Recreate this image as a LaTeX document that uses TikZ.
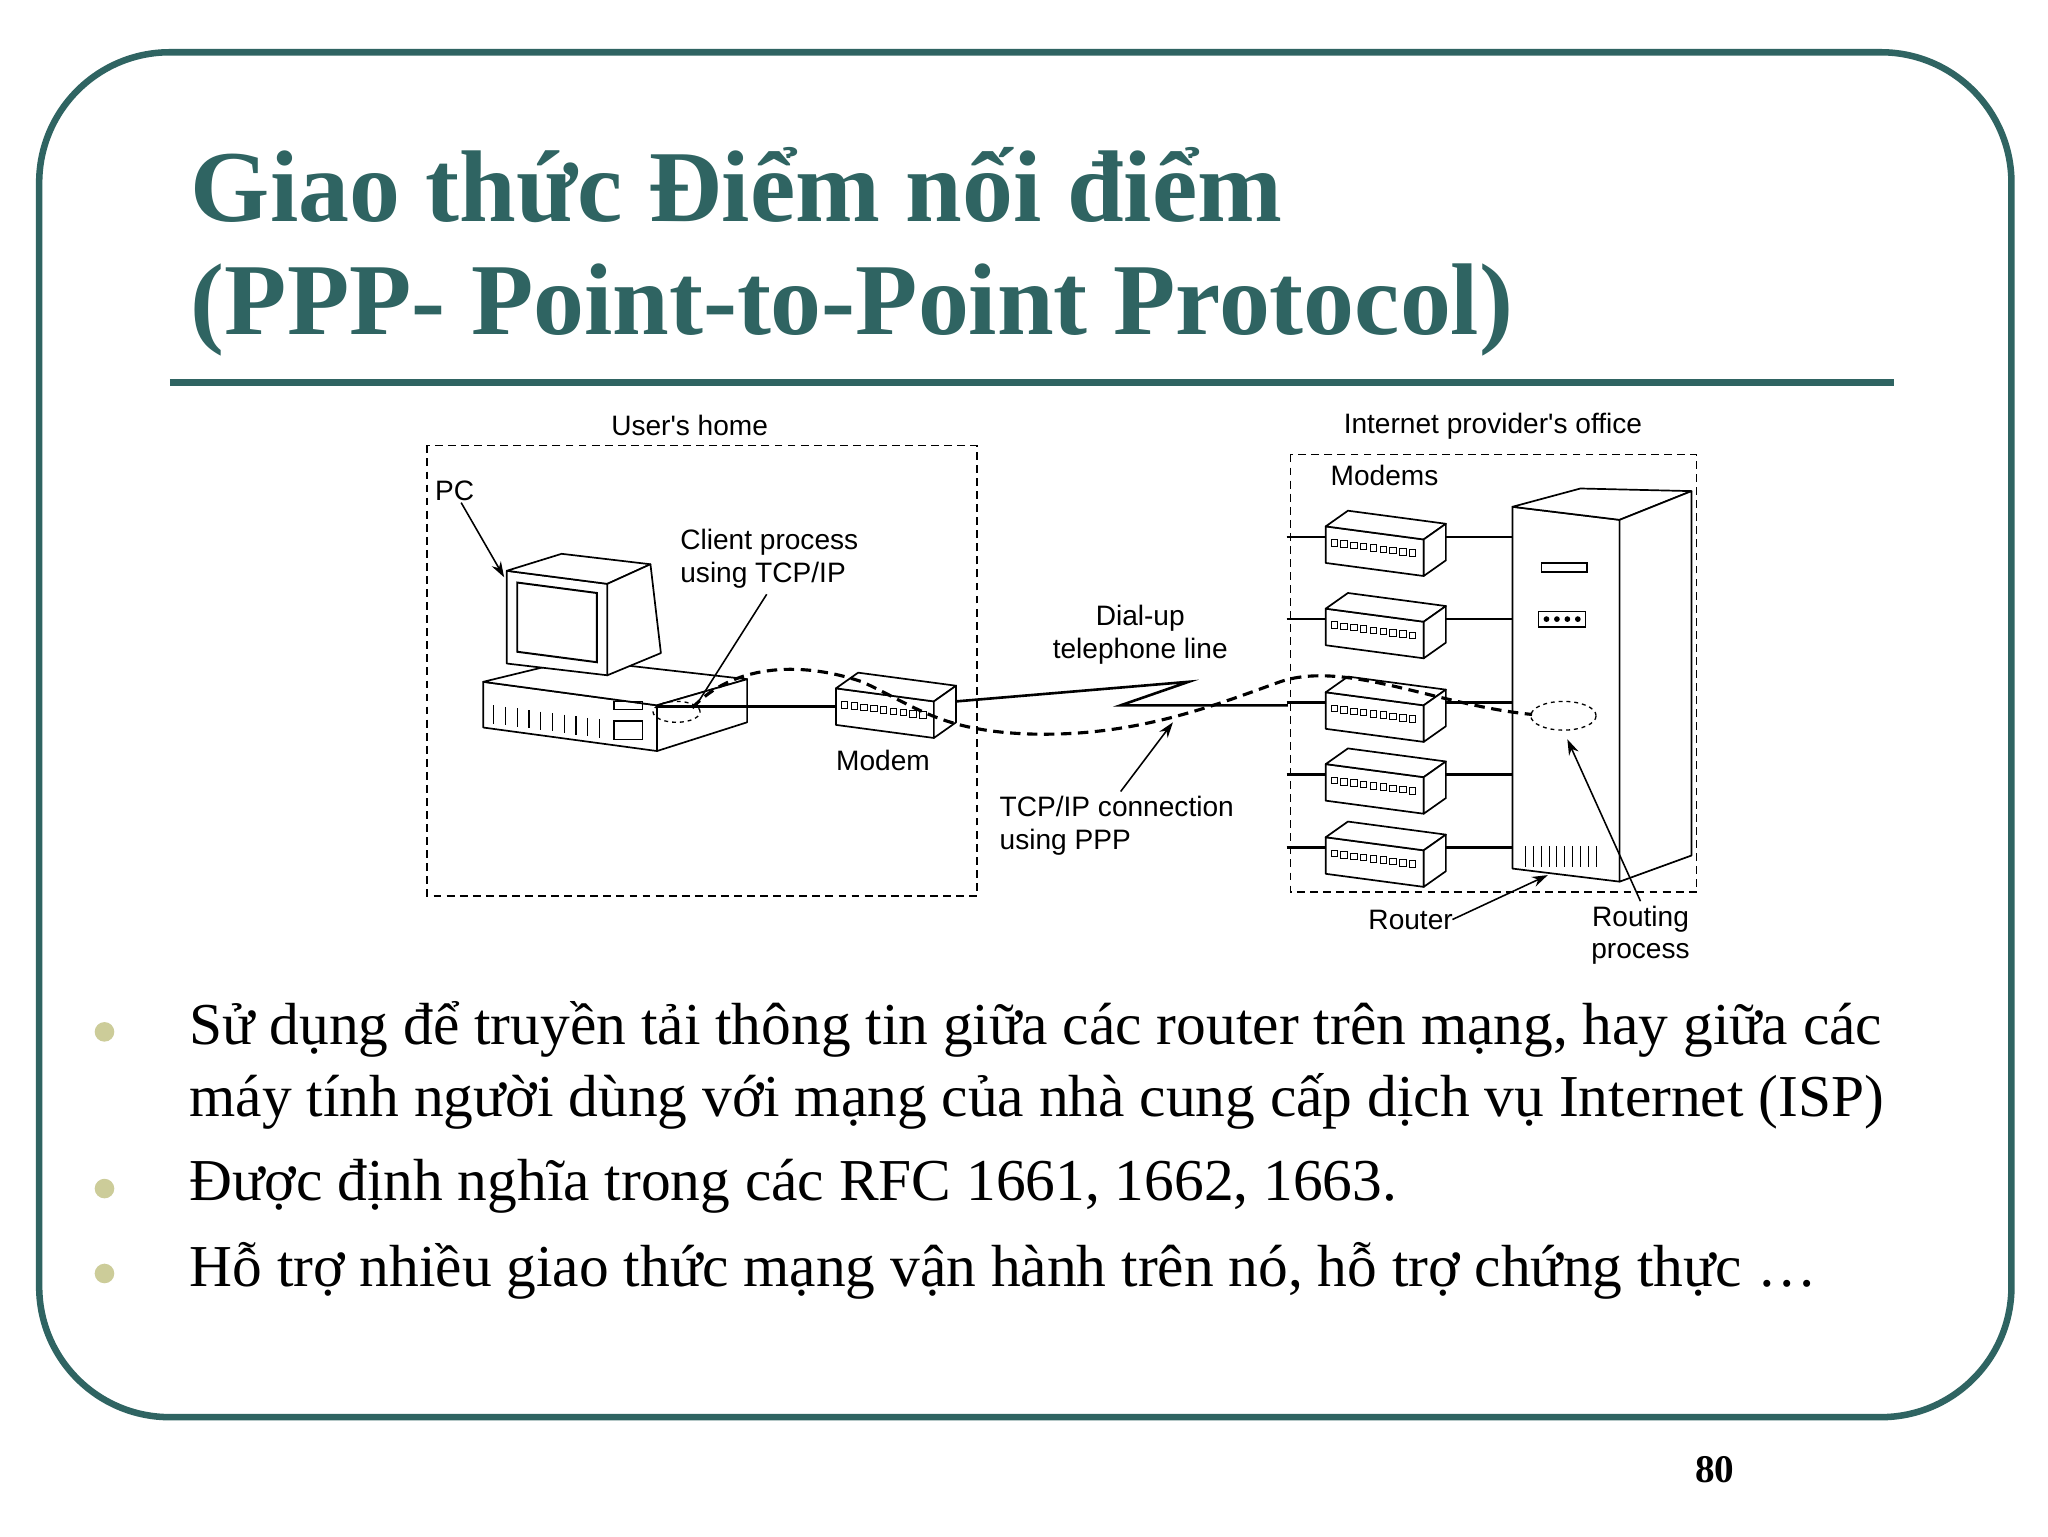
\documentclass[tikz,border=0pt]{standalone}
\usepackage{fontspec}
\setmainfont{Liberation Serif}
\newfontfamily\lsans{Liberation Sans}
\usetikzlibrary{arrows.meta}
\definecolor{teal1}{RGB}{47,100,98}
\definecolor{olive1}{RGB}{204,204,153}
\tikzset{
 lab/.style={font=\lsans\fontsize{21.5}{25}\selectfont,align=center,inner sep=1pt},
 dbox/.style={draw,dashed,line width=1.2pt,dash pattern=on 6pt off 4pt},
 dev/.style={draw,fill=white,line width=1.3pt,line join=round},
 wire/.style={line width=2pt},
 arr/.style={line width=1.2pt,-{Stealth[length=12pt,width=8pt]}},
 conn/.style={line width=2.4pt,dash pattern=on 8pt off 5pt},
 btxt/.style={anchor=west,font=\fontsize{45.5}{54}\selectfont,inner sep=0pt},
 bul/.style={circle,fill=olive1,minimum size=15pt,inner sep=0pt}
}
\newcommand{\modem}[3]{% name, x, y(top-left of front)
 \draw[dev] (#2,#3) -- ++(75,10) -- ++(0,28) -- ++(-75,-10) -- cycle;
 \draw[dev] (#2,#3) -- ++(17,-12) -- ++(75,10) -- ++(-17,12) -- cycle;
 \draw[dev] (#2+75,#3+10) -- ++(17,-12) -- ++(0,28) -- ++(-17,12) -- cycle;
 \foreach \k in {0,...,8} \draw[line width=0.6pt] (#2+4+\k*7.5,#3+10+\k*1) rectangle ++(5,5);
 \coordinate (#1) at (#2+40,#3+14);
}
\begin{document}
\begin{tikzpicture}[x=1pt,y=-1pt]
\useasboundingbox (0,0) rectangle (1568,1176);
\fill[white] (0,0) rectangle (1568,1176);
\draw[teal1,line width=5pt,rounded corners=100pt] (30,40) rectangle (1540,1085);
\node[anchor=west,text=teal1,font=\bfseries\fontsize{78}{90}\selectfont,inner sep=0pt] (t1) at (146,142) {Giao thức Điểm nối điểm};
\node[anchor=west,text=teal1,font=\bfseries\fontsize{78}{90}\selectfont,inner sep=0pt] (t2) at (146,237) {(PPP- Point-to-Point Protocol)};
\draw[teal1,line width=5pt] (130,293) -- (1450,293);

% boxes
\draw[dbox] (327,341) rectangle (748,686);
\node[lab] (uh) at (528,326) {User's home};
\draw[dbox] (988,348) rectangle (1299,683);
\node[lab] (ip) at (1143,326) {Internet provider's office};
\node[lab] (ms) at (1060,364) {Modems};

% PC base
\draw[dev] (370,522) -- (503,540) -- (503,575) -- (370,557) -- cycle;
\draw[dev] (370,522) -- (440,505) -- (572,520) -- (503,540) -- cycle;
\draw[dev] (503,540) -- (572,520) -- (572,553) -- (503,575) -- cycle;
\foreach \i in {0,...,9} \draw[line width=1pt] (378+\i*9,540+\i*1.2) -- ++(0,14);
\draw[line width=1pt] (470,537) rectangle ++(22,6);
\draw[line width=1pt] (470,552) rectangle ++(22,14);
% monitor
\draw[dev] (388,437) -- (465,447) -- (465,517) -- (388,508) -- cycle;
\draw[dev] (388,437) -- (430,424) -- (498,432) -- (465,447) -- cycle;
\draw[dev] (465,447) -- (498,432) -- (506,500) -- (465,517) -- cycle;
\draw[line width=1.5pt] (396,446) -- (457,454) -- (457,507) -- (396,499) -- cycle;
\node[lab] (pc) at (348,376) {PC};
\draw[arr] (pc) -- (386,442);
\draw[dashed,line width=1pt] (518,545) ellipse (18pt and 8pt);
\coordinate (ue) at (518,545);

% user modem
\modem{um}{640}{527}
\node[lab] (ml) at (676,582) {Modem};
\draw[wire] (503,541) -- (640,541);
\draw[wire] (732,537) -- (910,522) -- (858,540) -- (986,540);
\node[lab] (dl) at (873,486) {Dial-up\\telephone line};

% ISP modems
\foreach \y/\n in {403/m1,466/m2,530/m3,585/m4,641/m5}{
 \draw[wire] (985,\y+8) -- (1015,\y+8);
 \draw[wire] (1105,\y+8) -- (1158,\y+8);
 \modem{\n}{1015}{\y}
}
% router
\draw[dev] (1158,388) -- (1240,398) -- (1240,675) -- (1158,665) -- cycle;
\draw[dev] (1158,388) -- (1210,374) -- (1295,376) -- (1240,398) -- cycle;
\draw[dev] (1240,398) -- (1295,376) -- (1295,655) -- (1240,675) -- cycle;
\draw[line width=1pt] (1180,431) rectangle (1215,438);
\draw[line width=1pt] (1178,468) rectangle (1214,480);
\foreach \i in {0,...,3} \fill (1184+\i*8,474) circle (2.2pt);
\foreach \i in {0,...,9} \draw[line width=0.8pt] (1168+\i*6,648) -- ++(0,16);
\draw[dashed,line width=1pt] (1197,548) ellipse (25pt and 11pt);
\coordinate (re) at (1173,547);

% tcp/ip connection
\draw[conn] (530,542) .. controls (560,510) and (610,505) .. (660,522)
 .. controls (700,540) and (720,560) .. (790,562)
 .. controls (870,564) and (930,540) .. (980,522)
 .. controls (1030,505) and (1100,540) .. (re);

\node[lab,align=left] (cp) at (589,428) {Client process\\using TCP/IP};
\draw[line width=1.2pt] (587,455) -- (533,540);
\node[lab,align=left] (tc) at (855,632) {TCP/IP connection\\using PPP};
\draw[arr] (858,606) -- (898,553);
\node[lab] (rt) at (1080,704) {Router};
\draw[arr] (1112,704) -- (1185,670);
\node[lab] (rp) at (1256,716) {Routing\\process};
\draw[arr] (1256,690) -- (1200,566);

% bullets
\node[bul] (b1) at (80,790) {};
\node[bul] (b2) at (80,910) {};
\node[bul] (b3) at (80,975) {};
\node[btxt] (x1) at (145,788) {Sử dụng để truyền tải thông tin giữa các router trên mạng, hay giữa các};
\node[btxt] (x2) at (145,843) {máy tính người dùng với mạng của nhà cung cấp dịch vụ Internet (ISP)};
\node[btxt] (x3) at (145,908) {Được định nghĩa trong các RFC 1661, 1662, 1663.};
\node[btxt] (x4) at (145,973) {Hỗ trợ nhiều giao thức mạng vận hành trên nó, hỗ trợ chứng thực …};
\node[font=\bfseries\fontsize{30}{36}\selectfont] (pg) at (1313,1125) {80};
\end{tikzpicture}
\end{document}
